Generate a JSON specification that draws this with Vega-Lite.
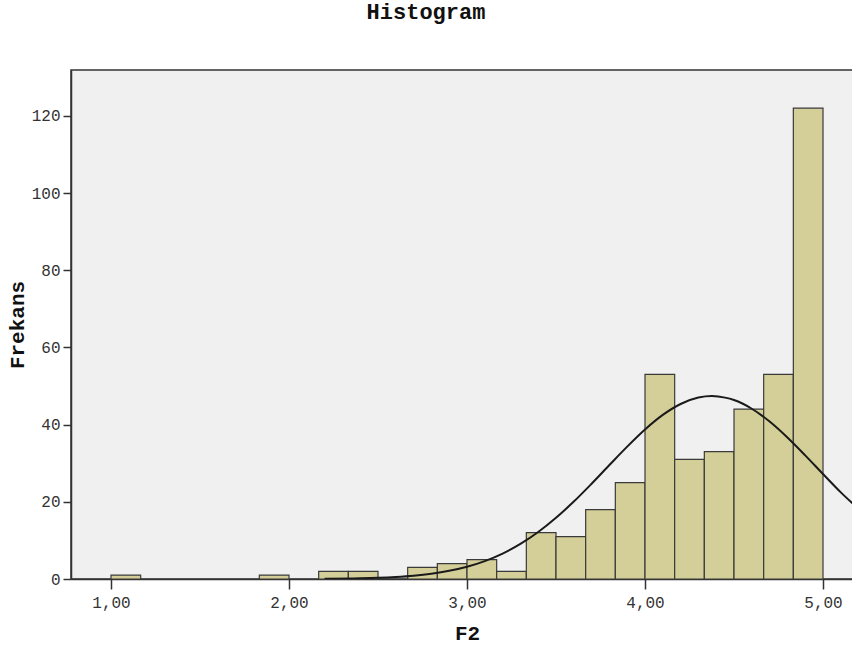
{
  "$schema": "https://vega.github.io/schema/vega-lite/v6.json",
  "width": 782,
  "height": 509,
  "autosize": {"type": "none"},
  "padding": {"left": 71, "top": 70, "right": 0, "bottom": 66},
  "background": "white",
  "title": {"text": "Histogram", "anchor": "middle", "frame": "group", "dx": -36, "offset": 46, "font": "Liberation Mono", "fontSize": 22, "fontWeight": "bold", "color": "#111"},
  "config": {
    "view": {"fill": "#f0f0f0", "stroke": "#333", "strokeWidth": 1.5},
    "axis": {"grid": false, "domainColor": "#333", "domainWidth": 1.5, "tickColor": "#333", "tickWidth": 1.5, "labelFont": "Liberation Mono", "labelFontSize": 16, "labelColor": "#333", "titleFont": "Liberation Mono", "titleFontSize": 21, "titleFontWeight": "bold", "titleColor": "#111"}
  },
  "datasets": {
    "bins": [
      {"bin_start": 1.0, "bin_end": 1.1667, "count": 1},
      {"bin_start": 1.8333, "bin_end": 2.0, "count": 1},
      {"bin_start": 2.1667, "bin_end": 2.3333, "count": 2},
      {"bin_start": 2.3333, "bin_end": 2.5, "count": 2},
      {"bin_start": 2.6667, "bin_end": 2.8333, "count": 3},
      {"bin_start": 2.8333, "bin_end": 3.0, "count": 4},
      {"bin_start": 3.0, "bin_end": 3.1667, "count": 5},
      {"bin_start": 3.1667, "bin_end": 3.3333, "count": 2},
      {"bin_start": 3.3333, "bin_end": 3.5, "count": 12},
      {"bin_start": 3.5, "bin_end": 3.6667, "count": 11},
      {"bin_start": 3.6667, "bin_end": 3.8333, "count": 18},
      {"bin_start": 3.8333, "bin_end": 4.0, "count": 25},
      {"bin_start": 4.0, "bin_end": 4.1667, "count": 53},
      {"bin_start": 4.1667, "bin_end": 4.3333, "count": 31},
      {"bin_start": 4.3333, "bin_end": 4.5, "count": 33},
      {"bin_start": 4.5, "bin_end": 4.6667, "count": 44},
      {"bin_start": 4.6667, "bin_end": 4.8333, "count": 53},
      {"bin_start": 4.8333, "bin_end": 5.0, "count": 122}
    ],
    "curve": [
      {"x": 2.2, "y": 0.06}, {"x": 2.4, "y": 0.18}, {"x": 2.5, "y": 0.31}, {"x": 2.6, "y": 0.53},
      {"x": 2.7, "y": 0.86}, {"x": 2.8, "y": 1.37}, {"x": 2.9, "y": 2.12}, {"x": 3.0, "y": 3.18},
      {"x": 3.1, "y": 4.64}, {"x": 3.2, "y": 6.59}, {"x": 3.3, "y": 9.09}, {"x": 3.4, "y": 12.18},
      {"x": 3.5, "y": 15.86}, {"x": 3.6, "y": 20.07}, {"x": 3.7, "y": 24.7}, {"x": 3.8, "y": 29.53},
      {"x": 3.9, "y": 34.3}, {"x": 4.0, "y": 38.74}, {"x": 4.1, "y": 42.52}, {"x": 4.2, "y": 45.35},
      {"x": 4.3, "y": 47.01}, {"x": 4.376, "y": 47.4}, {"x": 4.45, "y": 47.0}, {"x": 4.5, "y": 46.37},
      {"x": 4.6, "y": 44.12}, {"x": 4.7, "y": 40.81}, {"x": 4.8, "y": 36.68}, {"x": 4.9, "y": 32.04},
      {"x": 5.0, "y": 27.2}, {"x": 5.1, "y": 22.44}, {"x": 5.17, "y": 19.4}
    ]
  },
  "layer": [
    {
      "data": {"name": "bins"},
      "mark": {"type": "rect", "fill": "#d4cf98", "stroke": "#3a3a3a", "strokeWidth": 1.2},
      "encoding": {
        "x": {"field": "bin_start", "type": "quantitative", "scale": {"domain": [0.7753, 5.1685], "nice": false, "zero": false},
              "axis": {"title": "F2", "titleX": 396, "values": [1, 2, 3, 4, 5], "labelExpr": "replace(format(datum.value, '.2f'), '.', ',')", "tickSize": 10, "labelPadding": 5, "titlePadding": 12, "labelFlush": false}},
        "x2": {"field": "bin_end"},
        "y": {"field": "count", "type": "quantitative", "scale": {"domain": [0, 131.9], "nice": false},
              "axis": {"title": "Frekans", "values": [0, 20, 40, 60, 80, 100, 120], "tickSize": 8, "labelPadding": 3, "titlePadding": 4}},
        "y2": {"datum": 0}
      }
    },
    {
      "data": {"name": "curve"},
      "mark": {"type": "line", "color": "#1a1a1a", "strokeWidth": 2, "interpolate": "monotone", "clip": true},
      "encoding": {
        "x": {"field": "x", "type": "quantitative"},
        "y": {"field": "y", "type": "quantitative"}
      }
    }
  ]
}
